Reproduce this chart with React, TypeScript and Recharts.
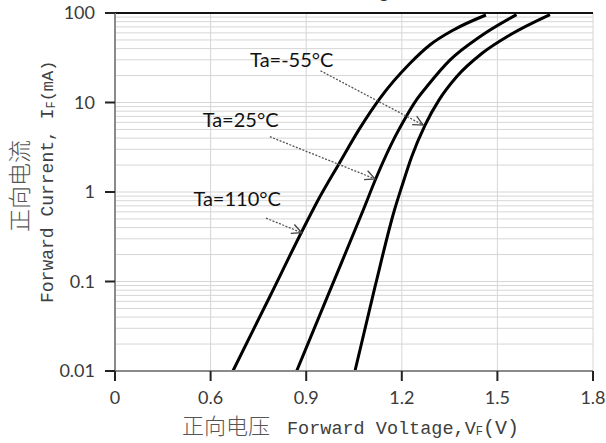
import React from "react";
import {
  LineChart,
  Line,
  XAxis,
  YAxis,
  CartesianGrid,
  ReferenceLine,
  ReferenceDot,
} from "recharts";

// forward voltage (V) / forward current (mA)
const VF_110 = [0.67, 0.786, 0.886, 0.937, 1.004, 1.069, 1.132, 1.226, 1.288, 1.362, 1.464];
const IF_110 = [0.01, 0.068, 0.36, 0.81, 2.1, 5.2, 11.2, 27.4, 43.9, 64.6, 95];

const VF_25 = [0.87, 0.975, 1.079, 1.121, 1.179, 1.213, 1.246, 1.278, 1.351, 1.445, 1.56];
const IF_25 = [0.01, 0.08, 0.63, 1.48, 4.15, 6.9, 10.7, 15, 29.8, 54.4, 96];

const VF_M55 = [1.053, 1.116, 1.177, 1.2, 1.231, 1.273, 1.317, 1.372, 1.452, 1.539, 1.665];
const IF_M55 = [0.01, 0.0875, 0.63, 1.15, 2.48, 5.6, 10.7, 19.4, 35.5, 56.8, 96];

// x axis is broken: first tick stands for 0
const X_TICKS = [0.3, 0.6, 0.9, 1.2, 1.5, 1.8];
const X_TICK_LABELS = ["0", "0.6", "0.9", "1.2", "1.5", "1.8"];
const Y_TICKS = [0.01, 0.1, 1, 10, 100];
const Y_TICK_LABELS = ["0.01", "0.1", "1", "10", "100"];
const GRID_Y = [
  0.02, 0.03, 0.04, 0.05, 0.06, 0.07, 0.08, 0.09, 0.1,
  0.2, 0.3, 0.4, 0.5, 0.6, 0.7, 0.8, 0.9, 1,
  2, 3, 4, 5, 6, 7, 8, 9, 10,
  20, 30, 40, 50, 60, 70, 80, 90,
];

// annotations
const NOTE_TEXT = ["Ta=-55°C", "Ta=25°C", "Ta=110°C"];
const NOTE_V = [0.724, 0.575, 0.546];
const NOTE_I = [24.9, 5.3, 0.7];
const ARROW_FROM_V = [0.945, 0.786, 0.774];
const ARROW_FROM_I = [22.6, 4.15, 0.51];
const ARROW_TO_V = [1.267, 1.116, 0.886];
const ARROW_TO_I = [5.6, 1.4, 0.351];

const toRows = (vs: number[], is: number[]) => vs.map((v, k) => ({ v, i: is[k] }));

const series = [
  { name: "110", data: toRows(VF_110, IF_110) },
  { name: "25", data: toRows(VF_25, IF_25) },
  { name: "-55", data: toRows(VF_M55, IF_M55) },
];

const tickStyle = { fontFamily: "Lato", fontSize: 18, fill: "#3a3a3a" };

function Arrow(props: any) {
  const { x1, y1, x2, y2 } = props;
  const ang = Math.atan2(y2 - y1, x2 - x1);
  const len = 11;
  const spread = 0.45;
  const ax = x2 - len * Math.cos(ang - spread);
  const ay = y2 - len * Math.sin(ang - spread);
  const bx = x2 - len * Math.cos(ang + spread);
  const by = y2 - len * Math.sin(ang + spread);
  return (
    <g>
      <line x1={x1} y1={y1} x2={x2} y2={y2} stroke="#555" strokeWidth={1.3} strokeDasharray="2 1.5" />
      <polyline points={`${ax},${ay} ${x2},${y2} ${bx},${by}`} fill="none" stroke="#444" strokeWidth={1.3} />
    </g>
  );
}

export default function App() {
  return (
    <div style={{ position: "absolute", left: 0, top: 0, width: 606, height: 443, background: "#fff" }}>
      <LineChart
        width={606}
        height={443}
        margin={{ top: 13, right: 13, left: 55, bottom: 32 }}
      >
        <CartesianGrid stroke="#d6d6d6" strokeWidth={1} horizontal={false} verticalValues={X_TICKS.slice(1)} />
        {GRID_Y.map((g) => (
          <ReferenceLine key={"g" + g} y={g} stroke="#d6d6d6" strokeWidth={1} />
        ))}
        <XAxis
          type="number"
          dataKey="v"
          domain={[0.3, 1.8]}
          ticks={X_TICKS}
          tickFormatter={(v: number) => X_TICK_LABELS[X_TICKS.indexOf(v)] ?? String(v)}
          allowDataOverflow
          height={40}
          tickSize={10}
          tickMargin={10}
          tick={tickStyle}
          axisLine={{ stroke: "#8a8a8a", strokeWidth: 2 }}
          tickLine={{ stroke: "#222", strokeWidth: 2 }}
        />
        <YAxis
          type="number"
          dataKey="i"
          scale="log"
          domain={[0.01, 100]}
          ticks={Y_TICKS}
          tickFormatter={(v: number) => Y_TICK_LABELS[Y_TICKS.indexOf(v)] ?? String(v)}
          allowDataOverflow
          width={60}
          tickSize={10}
          tickMargin={10}
          tick={tickStyle}
          axisLine={{ stroke: "#8a8a8a", strokeWidth: 2 }}
          tickLine={{ stroke: "#222", strokeWidth: 2 }}
        />
        <ReferenceLine y={100} stroke="#111" strokeWidth={2} />
        {series.map((s) => (
          <Line
            key={s.name}
            data={s.data}
            dataKey="i"
            type="monotone"
            stroke="#000"
            strokeWidth={3}
            dot={false}
            isAnimationActive={false}
          />
        ))}
        {NOTE_TEXT.map((t, k) => (
          <ReferenceLine
            key={"arrow" + k}
            segment={[
              { x: ARROW_FROM_V[k], y: ARROW_FROM_I[k] },
              { x: ARROW_TO_V[k], y: ARROW_TO_I[k] },
            ]}
            shape={(p: any) => <Arrow {...p} />}
          />
        ))}
        {NOTE_TEXT.map((t, k) => (
          <ReferenceDot
            key={"note" + k}
            x={NOTE_V[k]}
            y={NOTE_I[k]}
            r={0}
            shape={(p: any) => (
              <text x={p.cx} y={p.cy} fontFamily="Lato" fontSize={20} fill="#111">
                {t}
              </text>
            )}
          />
        ))}
      </LineChart>
      <svg
        width={606}
        height={443}
        style={{ position: "absolute", left: 0, top: 0, pointerEvents: "none" }}
      >
        <text x={398} y={-2} textAnchor="end" fontFamily="Lato" fontSize={18} fill="#333">
          Forward Voltage
        </text>
        <text x={182} y={434} fill="#555" fontSize={22} fontFamily="Noto Sans CJK SC" fontWeight={300}>
          正向电压
        </text>
        <text x={287} y={434} fill="#404040" fontSize={18.5} fontFamily="Liberation Mono">
          Forward Voltage,V
          <tspan fontSize={12} dy={1}>F</tspan>
          <tspan fontSize={20} dy={-1}>(V)</tspan>
        </text>
        <text
          transform="translate(28,186) rotate(-90)"
          textAnchor="middle"
          fontFamily="Noto Sans CJK SC"
          fontWeight={300}
          fontSize={23}
          fill="#555"
        >
          正向电流
        </text>
        <text
          transform="translate(53,303) rotate(-90)"
          fill="#404040"
          fontFamily="Liberation Mono"
          fontSize={18}
        >
          Forward Current, I
          <tspan fontSize={12} dy={2}>F</tspan>
          <tspan fontSize={17} dy={-2}>(mA)</tspan>
        </text>
      </svg>
    </div>
  );
}
